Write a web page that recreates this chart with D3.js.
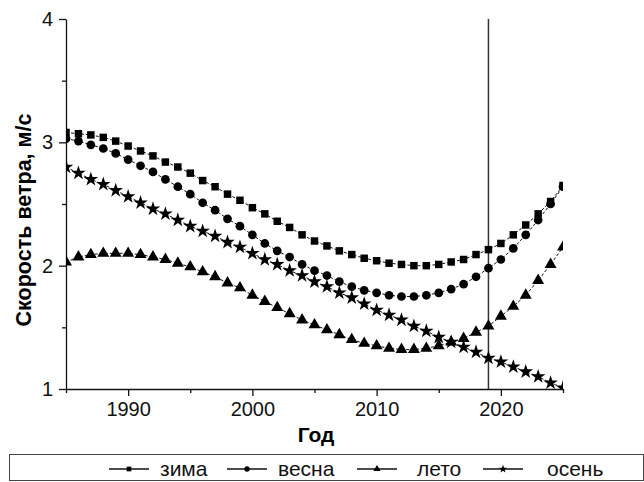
<!DOCTYPE html>
<html lang="ru">
<head>
  <meta charset="UTF-8">
  <title>Скорость ветра</title>
  <script src="https://d3js.org/d3.v7.min.js"></script>
  <style>
    body {
      margin: 0;
      padding: 0;
      background: #fff;
      font-family: "Liberation Sans", Arial, sans-serif;
    }
    .tick text {
      font-size: 20px;
      fill: #111;
    }
    .domain, .tick line {
      stroke: #111;
      stroke-width: 1.3;
    }
  </style>
</head>
<body>
  <div id="chart"></div>
  <script>
  const years = d3.range(1985, 2026);
  const zima = [3.08, 3.07, 3.06, 3.04, 3.01, 2.97, 2.93, 2.89, 2.84, 2.80,
    2.75, 2.69, 2.64, 2.58, 2.53, 2.47, 2.42, 2.36, 2.31, 2.25,
    2.20, 2.16, 2.12, 2.09, 2.06, 2.04, 2.02, 2.01, 2.00, 2.00,
    2.01, 2.03, 2.05, 2.09, 2.13, 2.18, 2.25, 2.33, 2.42, 2.52, 2.65];
  const vesna = [3.03, 3.01, 2.98, 2.95, 2.91, 2.86, 2.81, 2.76, 2.70, 2.64,
    2.58, 2.51, 2.45, 2.38, 2.32, 2.25, 2.18, 2.12, 2.07, 2.01,
    1.96, 1.92, 1.87, 1.83, 1.80, 1.78, 1.76, 1.75, 1.75, 1.76,
    1.78, 1.81, 1.85, 1.91, 1.98, 2.05, 2.14, 2.25, 2.37, 2.50, 2.64];
  const leto = [2.03, 2.07, 2.09, 2.10, 2.10, 2.10, 2.09, 2.07, 2.05, 2.02,
    1.99, 1.95, 1.91, 1.86, 1.82, 1.76, 1.71, 1.66, 1.61, 1.56,
    1.52, 1.48, 1.44, 1.40, 1.37, 1.35, 1.33, 1.32, 1.32, 1.33,
    1.35, 1.38, 1.41, 1.46, 1.51, 1.59, 1.67, 1.76, 1.88, 2.01, 2.15];
  const osen = [2.80, 2.75, 2.70, 2.66, 2.61, 2.56, 2.51, 2.46, 2.42, 2.37,
    2.32, 2.28, 2.24, 2.19, 2.15, 2.10, 2.05, 2.01, 1.96, 1.92,
    1.87, 1.83, 1.78, 1.74, 1.69, 1.64, 1.60, 1.56, 1.51, 1.47,
    1.42, 1.38, 1.34, 1.30, 1.25, 1.22, 1.18, 1.14, 1.10, 1.05, 1.01];
  const seriesNames = ["зима", "весна", "лето", "осень"];
  const xMajor = [1990, 2000, 2010, 2020];
  const xMinor = [1985, 1995, 2005, 2015, 2025];
  const yMajor = [1, 2, 3, 4];
  const yMinor = [1.5, 2.5, 3.5];
  const markYear = 2019;

  const series = [
    { name: seriesNames[0], values: zima, symbol: d3.symbolSquare, size: 56 },
    { name: seriesNames[1], values: vesna, symbol: d3.symbolCircle, size: 60 },
    { name: seriesNames[2], values: leto, symbol: d3.symbolTriangle, size: 62 },
    { name: seriesNames[3], values: osen, symbol: d3.symbolStar, size: 66 }
  ];

  const width = 644, height = 482;
  const plot = { left: 66, right: 563, top: 19, bottom: 389 };

  const svg = d3.select("#chart").append("svg")
    .attr("width", width)
    .attr("height", height);

  const x = d3.scaleLinear().domain([1985, 2025]).range([plot.left, plot.right]);
  const y = d3.scaleLinear().domain([1, 4]).range([plot.bottom, plot.top]);

  svg.append("clipPath").attr("id", "clip")
    .append("rect")
    .attr("x", plot.left).attr("y", plot.top)
    .attr("width", plot.right - plot.left)
    .attr("height", plot.bottom - plot.top);

  // minor ticks first, then major with labels
  svg.append("g")
    .attr("transform", `translate(0,${plot.bottom})`)
    .call(d3.axisBottom(x).tickValues(xMinor).tickSize(4).tickFormat("").tickSizeOuter(0))
    .select(".domain").remove();
  svg.append("g")
    .attr("transform", `translate(0,${plot.bottom})`)
    .call(d3.axisBottom(x).tickValues(xMajor).tickSize(7).tickPadding(6)
      .tickFormat(d3.format("d")).tickSizeOuter(0));

  svg.append("g")
    .attr("transform", `translate(${plot.left},0)`)
    .call(d3.axisLeft(y).tickValues(yMinor).tickSize(4).tickFormat("").tickSizeOuter(0))
    .select(".domain").remove();
  svg.append("g")
    .attr("transform", `translate(${plot.left},0)`)
    .call(d3.axisLeft(y).tickValues(yMajor).tickSize(7).tickPadding(6)
      .tickFormat(d3.format("d")).tickSizeOuter(0));

  // vertical marker line
  svg.append("line")
    .attr("x1", x(markYear)).attr("x2", x(markYear))
    .attr("y1", plot.top).attr("y2", plot.bottom)
    .attr("stroke", "#333")
    .attr("stroke-width", 1.5);

  const line = d3.line()
    .x((d, i) => x(years[i]))
    .y(d => y(d));

  const body = svg.append("g").attr("clip-path", "url(#clip)");

  series.forEach(s => {
    body.append("path")
      .datum(s.values)
      .attr("d", line)
      .attr("fill", "none")
      .attr("stroke", "#111")
      .attr("stroke-width", 1)
      .attr("stroke-dasharray", "3,2");

    body.selectAll(null)
      .data(s.values)
      .enter().append("path")
      .attr("d", d3.symbol().type(s.symbol).size(s.size))
      .attr("transform", (d, i) => `translate(${x(years[i])},${y(d)})`)
      .attr("fill", "#000");
  });

  // axis titles
  svg.append("text")
    .attr("x", 316)
    .attr("y", 442)
    .attr("text-anchor", "middle")
    .style("font-size", "21px")
    .style("font-weight", "bold")
    .text("Год");

  svg.append("text")
    .attr("transform", `translate(31,220) rotate(-90)`)
    .attr("text-anchor", "middle")
    .style("font-size", "21.5px")
    .style("font-weight", "bold")
    .text("Скорость ветра, м/с");

  // legend box
  svg.append("rect")
    .attr("x", 9.5).attr("y", 454.5)
    .attr("width", 634).attr("height", 26)
    .attr("fill", "none")
    .attr("stroke", "#444")
    .attr("stroke-width", 1);

  const legendX = [109, 227, 357, 483];
  const legendText = [160, 278, 417, 547];
  const legend = svg.append("g");
  series.forEach((s, i) => {
    const g = legend.append("g");
    g.append("line")
      .attr("x1", legendX[i]).attr("x2", legendX[i] + 40)
      .attr("y1", 469).attr("y2", 469)
      .attr("stroke", "#111").attr("stroke-width", 1.5);
    g.append("path")
      .attr("d", d3.symbol().type(s.symbol).size(22))
      .attr("transform", `translate(${legendX[i] + 20},469)`)
      .attr("fill", "#000");
    g.append("text")
      .attr("x", legendText[i])
      .attr("y", 476)
      .style("font-size", "21px")
      .attr("fill", "#111")
      .text(s.name);
  });
  </script>
</body>
</html>
